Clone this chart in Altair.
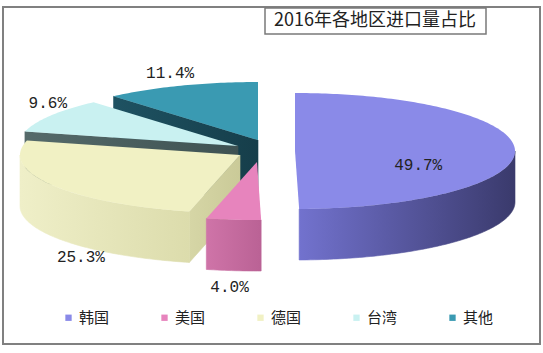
import altair as alt
import numpy as np
import pandas as pd

# ---------------- data ----------------
categories = ["韩国", "美国", "德国", "台湾", "其他"]
shares = [49.7, 4.0, 25.3, 9.6, 11.4]
labels = ["49.7%", "4.0%", "25.3%", "9.6%", "11.4%"]
title_text = "2016年各地区进口量占比"

# ---------------- style / layout ----------------
FRAME = (3, 7, 540, 344)          # outer frame in page pixels
BASE_C = (255, 150)               # pie centre
RX, RY, DEPTH = 220, 58, 51       # ellipse radii and thickness
EXPLODE = [(40, 1), (2, 12), (-15, 5), (-17, -4), (3, -10)]
TOP_COLORS = ["#8A8AE8", "#E784BD", "#F1F1C4", "#C9F1F1", "#3A9AB2"]
SIDE_GRAD = [("#7272CE", "#3A3A6C"), ("#CF74A8", "#BA6295"), ("#EFEFC8", "#DCDCAC"),
             ("#C9F1F1", "#C9F1F1"), ("#3A9AB2", "#3A9AB2")]
CUT_GRAD = [("#5A5AA8", "#5A5AA8"), ("#C86FA3", "#C86FA3"), ("#D6D6A6", "#CACA98"),
            ("#556A6A", "#3E5252"), ("#1E5262", "#163E4A")]
LABEL_F = [(0.56, 0.0, 0.28), (1.17, 1.28, 1.0), (0.845, 1.7, 1.0), (1.016, 1.41, 0.0), (1.14, 1.23, 0.0)]

total = sum(shares)
bounds = np.concatenate([[0.0], np.cumsum(shares) / total * 360.0])


def rim(c, deg, down=0.0):
    t = np.radians(deg)
    return (c[0] + RX * np.sin(t), c[1] - RY * np.cos(t) + down)


def arc(c, a, b, down=0.0):
    n = max(2, int(abs(b - a)) + 2)
    return [rim(c, d, down) for d in np.linspace(a, b, n)]


rows = []
side_order = []   # (poly id, gradient)


def add(pid, pts, cat):
    for k, (px, py) in enumerate(pts):
        rows.append({"poly": pid, "k": k, "x": px, "y": py, "cat": cat})


centres = []
for i, cat in enumerate(categories):
    c = (BASE_C[0] + EXPLODE[i][0], BASE_C[1] + EXPLODE[i][1])
    centres.append(c)
    a, b = bounds[i], bounds[i + 1]
    add("top_%d" % i, [c] + arc(c, a, b), cat)

# side faces in painter order (back slices first)
paint = [4, 3, 2, 0, 1]
for i in paint:
    cat = categories[i]
    c = centres[i]
    a, b = bounds[i], bounds[i + 1]
    cd = (c[0], c[1] + DEPTH)
    if np.sin(np.radians(a)) < -0.05:
        p, q = rim(c, a), rim(c, a, DEPTH)
        add("cuts_%d" % i, [c, p, q, cd], cat)
        side_order.append(("cuts_%d" % i, CUT_GRAD[i]))
    if np.sin(np.radians(b)) > 0.05:
        p, q = rim(c, b), rim(c, b, DEPTH)
        add("cute_%d" % i, [c, p, q, cd], cat)
        side_order.append(("cute_%d" % i, CUT_GRAD[i]))
    lo, hi = max(a, 90.0), min(b, 270.0)
    if hi > lo:
        top = arc(c, lo, hi)
        bot = arc(c, lo, hi, DEPTH)[::-1]
        add("side_%d" % i, top + bot, cat)
        side_order.append(("side_%d" % i, SIDE_GRAD[i]))

df = pd.DataFrame(rows)

lab_rows = []
for i, cat in enumerate(categories):
    c = centres[i]
    m = np.radians((bounds[i] + bounds[i + 1]) / 2)
    kx, ky, dz = LABEL_F[i]
    lab_rows.append({"x": c[0] + RX * kx * np.sin(m),
                     "y": c[1] - RY * ky * np.cos(m) + DEPTH * dz,
                     "text": labels[i]})
lab_df = pd.DataFrame(lab_rows)

X = alt.X("x:Q", scale=alt.Scale(domain=[FRAME[0], FRAME[2]], nice=False, zero=False), axis=None)
Y = alt.Y("y:Q", scale=alt.Scale(domain=[FRAME[1], FRAME[3]], nice=False, zero=False, reverse=True), axis=None)

base = alt.Chart(df)


def grad(c1, c2):
    return alt.LinearGradient(gradient="linear", x1=0, x2=1, y1=0, y2=0,
                              stops=[alt.GradientStop(offset=0, color=c1),
                                     alt.GradientStop(offset=1, color=c2)])


layers = []
for pid, (g1, g2) in side_order:
    g = grad(g1, g2)
    layers.append(
        base.transform_filter(alt.datum.poly == pid)
        .mark_line(filled=True, interpolate="linear-closed", fill=g, stroke=g, strokeWidth=0.6)
        .encode(x=X, y=Y, order=alt.Order("k:Q"))
    )

tops = (
    base.transform_filter("indexof(datum.poly, 'top_') == 0")
    .mark_line(filled=True, interpolate="linear-closed", strokeWidth=0)
    .encode(
        x=X, y=Y, order=alt.Order("k:Q"),
        color=alt.Color(
            "cat:N",
            scale=alt.Scale(domain=categories, range=TOP_COLORS),
            legend=alt.Legend(
                orient="none", legendX=58, legendY=303, direction="horizontal",
                title=None, symbolType="square", symbolSize=40,
                symbolStrokeWidth=0, labelFontSize=15, labelFont="Noto Sans CJK SC",
                labelColor="#222222", labelOffset=3, columnPadding=47, padding=0,
            ),
        ),
    )
)
layers.append(tops)

texts = alt.Chart(lab_df).mark_text(
    font="Liberation Mono", fontSize=16, color="#222222", align="center", baseline="middle"
).encode(x=X, y=Y, text="text:N")
layers.append(texts)

box = alt.Chart(alt.Data(values=[{}])).mark_rect(
    fill="white", stroke="#7a7a7a", strokeWidth=1.5
).encode(x=alt.value(262), x2=alt.value(483), y=alt.value(1), y2=alt.value(27))
layers.append(box)

title = alt.Chart(alt.Data(values=[{"t": title_text}])).mark_text(
    font="Noto Sans CJK SC", fontSize=18, color="#222222", align="center", baseline="middle"
).encode(x=alt.value(372), y=alt.value(14), text="t:N")
layers.append(title)

chart = (
    alt.layer(*layers)
    .properties(width=537, height=337, autosize="none",
                padding={"left": 3, "top": 7, "right": 3, "bottom": 9},
                background="white")
    .configure_view(stroke="#808080", strokeWidth=2)
)

chart.save("out.html", embed_options={"renderer": "svg", "actions": False})
